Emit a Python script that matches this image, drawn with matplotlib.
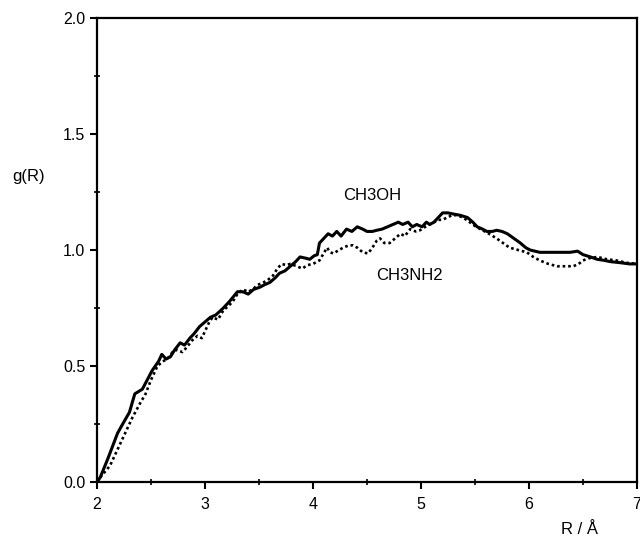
import numpy as np
import matplotlib
matplotlib.use("Agg")
import matplotlib.pyplot as plt
from matplotlib.ticker import MultipleLocator

# CH3OH (solid)
r_oh = [2.00, 2.03, 2.10, 2.19, 2.25, 2.30, 2.35, 2.42, 2.51, 2.57, 2.60, 2.64, 2.68, 2.72,
        2.77, 2.81, 2.86, 2.90, 2.95, 3.00, 3.05, 3.10, 3.17, 3.23, 3.30, 3.35, 3.40, 3.45,
        3.51, 3.55, 3.60, 3.65, 3.69, 3.74, 3.79, 3.84, 3.88, 3.93, 3.97, 4.01, 4.04, 4.06,
        4.10, 4.14, 4.18, 4.22, 4.26, 4.31, 4.36, 4.41, 4.46, 4.50, 4.55, 4.59, 4.64, 4.69,
        4.74, 4.79, 4.83, 4.88, 4.92, 4.96, 5.01, 5.05, 5.08, 5.12, 5.16, 5.20, 5.25, 5.30,
        5.36, 5.43, 5.48, 5.52, 5.57, 5.61, 5.66, 5.70, 5.75, 5.80, 5.86, 5.92, 5.97, 6.01,
        6.10, 6.19, 6.28, 6.38, 6.45, 6.50, 6.57, 6.63, 6.70, 6.75, 6.85, 6.93, 7.00]
g_oh = [0.00, 0.02, 0.10, 0.21, 0.26, 0.30, 0.38, 0.40, 0.48, 0.52, 0.55, 0.53, 0.54, 0.57,
        0.60, 0.59, 0.62, 0.64, 0.67, 0.69, 0.71, 0.72, 0.75, 0.78, 0.82, 0.82, 0.81, 0.83,
        0.84, 0.85, 0.86, 0.88, 0.90, 0.91, 0.93, 0.95, 0.97, 0.965, 0.96, 0.975, 0.98, 1.03,
        1.05, 1.07, 1.06, 1.08, 1.06, 1.09, 1.08, 1.10, 1.09, 1.08, 1.08, 1.085, 1.09, 1.10,
        1.11, 1.12, 1.11, 1.12, 1.10, 1.11, 1.10, 1.12, 1.11, 1.12, 1.14, 1.16, 1.16, 1.155,
        1.15, 1.14, 1.12, 1.10, 1.09, 1.08, 1.08, 1.085, 1.08, 1.07, 1.05, 1.03, 1.01, 1.00,
        0.99, 0.99, 0.99, 0.99, 0.995, 0.98, 0.97, 0.96, 0.955, 0.95, 0.945, 0.94, 0.94]

# CH3NH2 (dotted)
r_nh = [2.00, 2.03, 2.12, 2.19, 2.26, 2.33, 2.40, 2.45, 2.50, 2.56, 2.61, 2.65, 2.70, 2.74,
        2.79, 2.83, 2.88, 2.93, 2.97, 3.00, 3.04, 3.07, 3.12, 3.17, 3.22, 3.26, 3.30, 3.35,
        3.40, 3.44, 3.49, 3.54, 3.58, 3.63, 3.67, 3.71, 3.75, 3.79, 3.85, 3.90, 3.95, 4.00,
        4.06, 4.13, 4.16, 4.19, 4.24, 4.28, 4.33, 4.37, 4.41, 4.46, 4.51, 4.55, 4.59, 4.62,
        4.66, 4.71, 4.76, 4.81, 4.85, 4.90, 4.95, 4.99, 5.04, 5.08, 5.12, 5.16, 5.20, 5.24,
        5.29, 5.33, 5.39, 5.45, 5.51, 5.57, 5.63, 5.70, 5.76, 5.82, 5.90, 5.98, 6.04, 6.10,
        6.18, 6.26, 6.34, 6.41, 6.46, 6.50, 6.56, 6.63, 6.68, 6.72, 6.81, 6.90, 7.00]
g_nh = [0.00, 0.02, 0.07, 0.14, 0.21, 0.28, 0.34, 0.38, 0.44, 0.50, 0.52, 0.53, 0.56, 0.57,
        0.56, 0.58, 0.61, 0.63, 0.62, 0.65, 0.69, 0.71, 0.70, 0.74, 0.76, 0.78, 0.81, 0.83,
        0.82, 0.83, 0.85, 0.86, 0.87, 0.89, 0.92, 0.94, 0.935, 0.94, 0.93, 0.92, 0.935, 0.94,
        0.955, 1.01, 0.99, 0.985, 1.00, 1.01, 1.02, 1.02, 1.01, 0.99, 0.985, 1.01, 1.04, 1.05,
        1.03, 1.03, 1.05, 1.07, 1.06, 1.09, 1.08, 1.085, 1.10, 1.11, 1.12, 1.13, 1.13, 1.14,
        1.15, 1.15, 1.14, 1.12, 1.10, 1.085, 1.07, 1.05, 1.03, 1.01, 1.00, 0.99, 0.97, 0.955,
        0.94, 0.93, 0.93, 0.93, 0.94, 0.955, 0.965, 0.97, 0.965, 0.96, 0.955, 0.945, 0.94]

plt.rcParams['font.family'] = ['Liberation Sans', 'DejaVu Sans']

fig = plt.figure(figsize=(6.4, 5.46), dpi=100)
ax = fig.add_axes([97 / 640, 1 - 482 / 546, 540 / 640, 464 / 546])

ax.plot(r_oh, g_oh, color='black', lw=2.2, solid_joinstyle='round')
ax.plot(r_nh, g_nh, color='black', lw=1.9, linestyle=(0, (1, 1.1)))

ax.set_xlim(2, 7)
ax.set_ylim(0, 2)
ax.xaxis.set_major_locator(MultipleLocator(1))
ax.xaxis.set_minor_locator(MultipleLocator(0.5))
ax.yaxis.set_major_locator(MultipleLocator(0.5))
ax.yaxis.set_minor_locator(MultipleLocator(0.25))
ax.yaxis.set_major_formatter(plt.FormatStrFormatter('%.1f'))
ax.tick_params(which='major', direction='out', length=5, width=1.5, labelsize=11.5)
ax.tick_params(axis='x', which='major', pad=6)
ax.tick_params(which='minor', direction='inout', length=4, width=1.2)
for s in ax.spines.values():
    s.set_linewidth(1.6)

ax.text(4.55, 1.235, 'CH3OH', ha='center', va='center', fontsize=12)
ax.text(4.89, 0.89, 'CH3NH2', ha='center', va='center', fontsize=12)

fig.text(29 / 640, 1 - 177 / 546, 'g(R)', ha='center', va='center', fontsize=12)
fig.text(579 / 640, 1 - 529 / 546, 'R / Å', ha='center', va='center', fontsize=12)

fig.savefig('out.png', dpi=100)
